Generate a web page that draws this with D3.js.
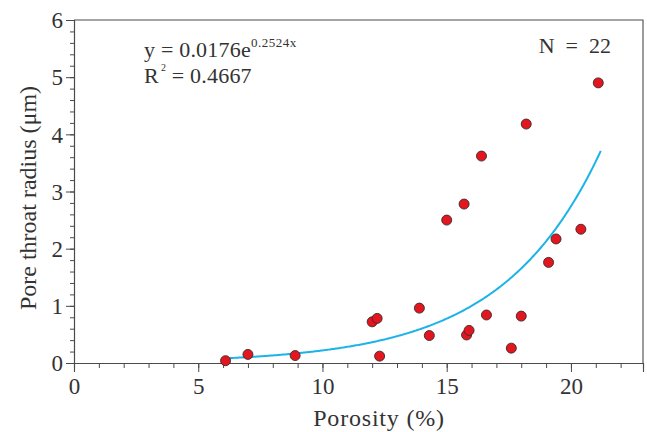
<!DOCTYPE html>
<html>
<head>
<meta charset="utf-8">
<script src="https://cdn.jsdelivr.net/npm/d3@7"></script>
<style>
  body { margin: 0; background: #fff; }
  svg text { font-family: 'Liberation Serif', 'Times New Roman', serif; fill: #333; }
</style>
</head>
<body>
<div id="chart"></div>
<script>
// porosity (%) and pore throat radius (um)
const porosity = [6.1, 7.0, 8.9, 12.0, 12.2, 12.3, 13.9, 14.3, 15.0, 15.7, 15.8, 15.9,
                  16.4, 16.6, 17.6, 18.0, 18.2, 19.1, 19.4, 20.4, 21.1];
const radius   = [0.04, 0.15, 0.13, 0.72, 0.78, 0.12, 0.96, 0.48, 2.50, 2.78, 0.49, 0.57,
                  3.62, 0.84, 0.26, 0.82, 4.18, 1.76, 2.17, 2.34, 4.90];
const xTicks = [0, 5, 10, 15, 20];
const yTicks = [0, 1, 2, 3, 4, 5, 6];
const fitA = 0.0176, fitB = 0.2524;

const width = 647, height = 432;
const plotLeft = 74, plotRight = 643, plotTop = 20, plotBottom = 363;

const svg = d3.select('#chart').append('svg')
    .attr('width', width)
    .attr('height', height);

const x = d3.scaleLinear().domain([0, 22.9]).range([plotLeft, plotRight]);
const y = d3.scaleLinear().domain([0, 6]).range([plotBottom, plotTop]);

// frame (top + right)
svg.append('path')
    .attr('d', `M${plotLeft},${plotTop}H${plotRight}V${plotBottom}`)
    .attr('fill', 'none')
    .attr('stroke', '#4a4a4a')
    .attr('stroke-width', 1.1);

// minor ticks
const xAxisMinor = d3.axisBottom(x).tickValues(d3.range(0, 23, 1)).tickSize(5).tickFormat('');
svg.append('g').attr('transform', `translate(0,${plotBottom})`).call(xAxisMinor);
const yAxisMinor = d3.axisLeft(y).tickValues(d3.range(0, 6.01, 0.2)).tickSize(4).tickFormat('');
svg.append('g').attr('transform', `translate(${plotLeft},0)`).call(yAxisMinor);

// major ticks + labels
const xAxis = svg.append('g')
    .attr('transform', `translate(0,${plotBottom})`)
    .call(d3.axisBottom(x).tickValues(xTicks).tickSize(9).tickPadding(6).tickFormat(d3.format('d')));
const yAxis = svg.append('g')
    .attr('transform', `translate(${plotLeft},0)`)
    .call(d3.axisLeft(y).tickValues(yTicks).tickSize(8).tickPadding(3).tickFormat(d3.format('d')));

svg.selectAll('g').attr('font-family', null).attr('font-size', null);
svg.selectAll('.domain').attr('stroke', '#4a4a4a').attr('stroke-width', 1.1);
svg.selectAll('.tick line').attr('stroke', '#4a4a4a').attr('stroke-width', 1);
svg.selectAll('.tick text')
    .style('font-size', '23px')
    .attr('fill', '#333');
yAxis.selectAll('.tick text').attr('dy', '0.34em');

// fit curve
const fitX = d3.range(6.25, 21.21, 0.05);
svg.append('path')
    .datum(fitX)
    .attr('fill', 'none')
    .attr('stroke', '#1cb3e8')
    .attr('stroke-width', 2)
    .attr('d', d3.line()
        .x(d => x(d))
        .y(d => y(fitA * Math.exp(fitB * d))));

// data points
svg.selectAll('circle')
    .data(porosity)
    .enter()
    .append('circle')
    .attr('cx', d => x(d))
    .attr('cy', (d, i) => y(radius[i]))
    .attr('r', 5)
    .attr('fill', '#e3161f')
    .attr('stroke', '#3a2a2a')
    .attr('stroke-width', 0.9);

// annotations
const eq = svg.append('text').attr('x', 144).attr('y', 57)
    .style('font-size', '22px').style('letter-spacing', '0.2px');
eq.append('tspan').text('y = 0.0176e');
eq.append('tspan').attr('dy', -10).style('font-size', '13px').style('letter-spacing', '0.5px').text('0.2524x');

const r2 = svg.append('text').attr('x', 144).attr('y', 83)
    .style('font-size', '22px').style('letter-spacing', '0.2px');
r2.append('tspan').text('R');
r2.append('tspan').attr('dy', -12).attr('dx', 2).style('font-size', '10px').text('2');
r2.append('tspan').attr('dy', 12).text(' = 0.4667');

svg.append('text')
    .attr('x', 611).attr('y', 53)
    .attr('text-anchor', 'end')
    .style('font-size', '22px')
    .style('white-space', 'pre')
    .text('N  =  22');

// axis titles
svg.append('text')
    .attr('x', 379)
    .attr('y', 426)
    .attr('text-anchor', 'middle')
    .style('font-size', '24px')
    .style('letter-spacing', '0.8px')
    .text('Porosity (%)');

svg.append('text')
    .attr('transform', `translate(36,198) rotate(-90)`)
    .attr('text-anchor', 'middle')
    .style('font-size', '24px')
    .text('Pore throat radius (μm)');
</script>
</body>
</html>
